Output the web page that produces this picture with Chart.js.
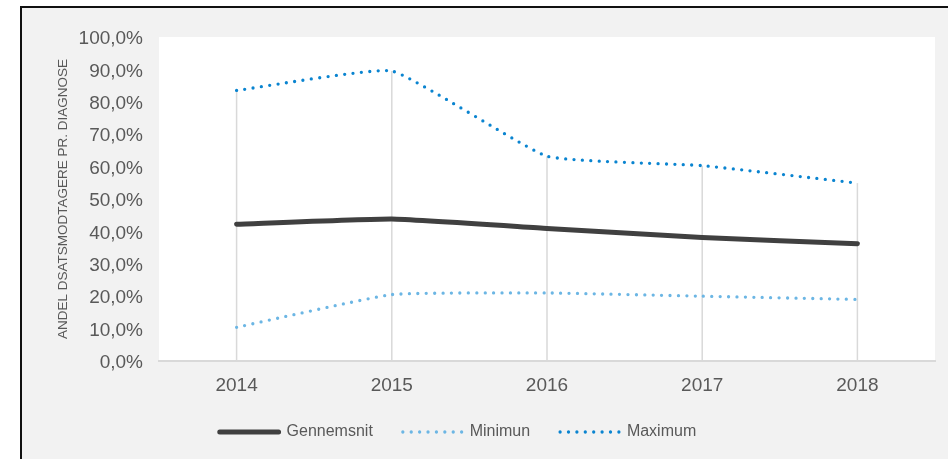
<!DOCTYPE html>
<html>
<head>
<meta charset="utf-8">
<script src="https://cdn.jsdelivr.net/npm/chart.js@4"></script>
<style>
  html, body { margin: 0; padding: 0; background: #fff; overflow: hidden; }
  body { width: 948px; height: 459px; position: relative; }
  #frame {
    position: absolute; left: 20px; top: 6px; width: 940px; height: 470px;
    background: #f2f2f2; border-left: 2px solid #111; border-top: 2px solid #111;
  }
  #wrap { position: absolute; left: -19px; top: 0; width: 967px; height: 459px; }
</style>
</head>
<body>
<div id="frame"></div>
<div id="wrap"><canvas id="chart"></canvas></div>
<script>
// data
const years = ["2014", "2015", "2016", "2017", "2018"];
const gennemsnit = [42.2, 43.8, 40.9, 38.1, 36.2];
const minimun = [10.4, 20.5, 21.0, 20.0, 19.0];
const maximum = [83.5, 89.5, 63.2, 60.3, 54.9];

const textCol = "#595959";
const fontFam = "'Liberation Sans', Arial, sans-serif";
const dots = [0, 8.4];

// white plot area
const plotBg = {
  id: "plotBg",
  beforeDraw(chart) {
    const { ctx, chartArea: a } = chart;
    ctx.save();
    ctx.fillStyle = "#fff";
    ctx.fillRect(a.left, a.top, a.right - a.left, a.bottom - a.top);
    ctx.restore();
  }
};

// drop lines from the max series down to the axis
const dropLines = {
  id: "dropLines",
  beforeDatasetsDraw(chart) {
    const { ctx, chartArea: a } = chart;
    const pts = chart.getDatasetMeta(2).data;
    ctx.save();
    ctx.strokeStyle = "#d9d9d9";
    ctx.lineWidth = 1.5;
    pts.forEach(p => {
      ctx.beginPath();
      ctx.moveTo(p.x, p.y);
      ctx.lineTo(p.x, a.bottom);
      ctx.stroke();
    });
    ctx.restore();
  }
};

new Chart(document.getElementById("chart"), {
  type: "line",
  data: {
    labels: years,
    datasets: [
      { label: "Gennemsnit", data: gennemsnit, borderColor: "#404040", backgroundColor: "#404040",
        borderWidth: 5, borderCapStyle: "round", borderJoinStyle: "round", pointRadius: 0,
        tension: 0.12 },
      { label: "Minimun", data: minimun, borderColor: "#6cb6e4", backgroundColor: "#6cb6e4",
        borderWidth: 3.3, borderDash: dots, borderCapStyle: "round", pointRadius: 0,
        tension: 0.12 },
      { label: "Maximum", data: maximum, borderColor: "#0a84d0", backgroundColor: "#0a84d0",
        borderWidth: 3.3, borderDash: dots, borderCapStyle: "round", pointRadius: 0,
        tension: 0.12 }
    ]
  },
  options: {
    responsive: true,
    maintainAspectRatio: false,
    animation: false,
    layout: { padding: { top: 37, right: 13, left: 0, bottom: 9 } },
    plugins: {
      tooltip: { enabled: false },
      legend: {
        position: "bottom",
        labels: {
          boxWidth: 58.8, boxHeight: 0, padding: 30,
          color: textCol, font: { family: fontFam, size: 16 }
        }
      }
    },
    scales: {
      x: {
        offset: true,
        grid: { display: false, drawTicks: false },
        border: { display: true, color: "#d9d9d9", width: 2 },
        ticks: { color: textCol, padding: 13, font: { family: fontFam, size: 19 } },
        afterFit(s) { s.height = 33; }
      },
      y: {
        min: 0, max: 100,
        grid: { display: false, drawTicks: false },
        border: { display: false },
        ticks: {
          stepSize: 10, padding: 16, labelOffset: 2, color: textCol, font: { family: fontFam, size: 19 },
          callback: v => v.toFixed(1).replace(".", ",") + "%"
        },
        title: {
          display: true, text: "ANDEL DSATSMODTAGERE PR. DIAGNOSE", color: textCol,
          font: { family: fontFam, size: 13.5 }, padding: { top: 74, bottom: 0 }
        },
        afterFit(s) { s.width = 178; }
      }
    }
  },
  plugins: [plotBg, dropLines]
});
</script>
</body>
</html>
